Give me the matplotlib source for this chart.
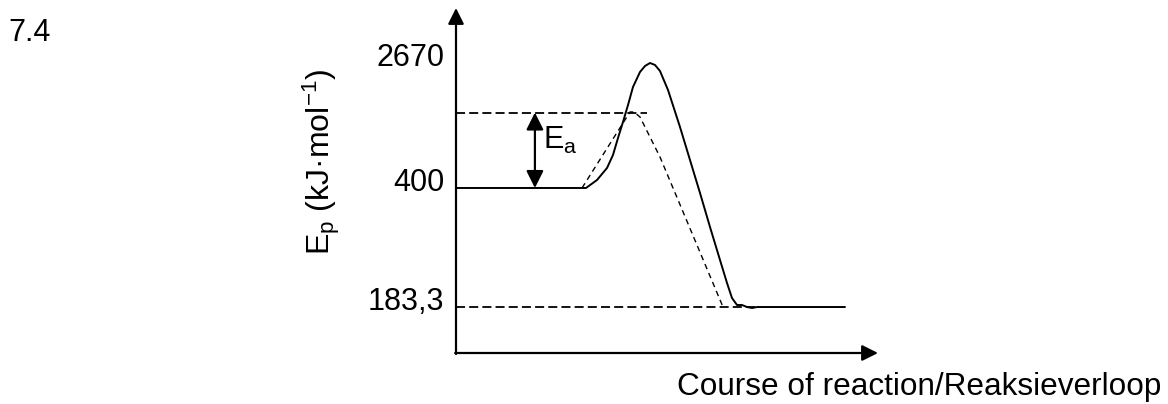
import matplotlib
matplotlib.use("Agg")
import matplotlib.pyplot as plt
from matplotlib.transforms import offset_copy

plt.rcParams['font.family'] = ['Liberation Sans', 'DejaVu Sans']
plt.rcParams['mathtext.fontset'] = 'custom'
plt.rcParams['mathtext.rm'] = 'Liberation Sans'
plt.rcParams['mathtext.it'] = 'Liberation Sans'

# Schematic energy levels (axis units 0-100) and their labels
level_pos = [84.06, 47.83, 13.33]
level_labels = ["2670", "400", "183,3"]

# Uncatalysed curve (solid)
solid_x = [0, 30.81, 33.41, 35.78, 37.20, 38.39, 39.57, 40.76, 41.94, 43.60,
           44.79, 45.97, 47.16, 48.34, 50.24, 53.08, 55.45, 57.82, 60.19,
           62.56, 64.22, 65.40, 66.59, 67.77, 68.96, 70.14, 71.33, 92.18]
solid_y = [47.83, 47.83, 50.14, 53.62, 57.39, 62.32, 66.96, 71.88, 77.10, 81.45,
           83.19, 84.06, 83.48, 81.74, 76.23, 65.51, 55.94, 46.38, 36.52,
           26.96, 20.29, 15.94, 13.91, 13.91, 13.33, 13.04, 13.33, 13.33]

# Catalysed curve (fine dashed)
cat_x = [29.86, 41.23, 42.18, 43.60, 48.34, 63.27]
cat_y = [47.83, 69.86, 69.86, 68.41, 56.81, 13.33]

# Guide lines
ea_level = 69.7
ea_line_end = 45.3
prod_line_end = 70.9
ea_arrow_x = 18.7

FS = 22

fig = plt.figure(figsize=(11.68, 4.04), dpi=100)
ax = fig.add_axes([456/1168, 51/404, 422/1168, 345/404])
ax.set_xlim(0, 100)
ax.set_ylim(0, 100)
ax.axis('off')

# level labels (tick-like, left of the axis)
lab_tr = offset_copy(ax.transData, fig=fig, x=-12, y=5, units='dots')
for yv, lab in zip(level_pos, level_labels):
    ax.text(0, yv, lab, transform=lab_tr, ha='right', va='center', fontsize=FS)

# axes with arrows
arrow_kw = dict(arrowstyle='-|>', lw=1.6, color='black',
                mutation_scale=24, shrinkA=0, shrinkB=0)
ax.annotate('', xy=(0, 100), xytext=(0, -0.3), arrowprops=arrow_kw,
            annotation_clip=False)
ax.annotate('', xy=(100, 0), xytext=(-0.2, 0), arrowprops=arrow_kw,
            annotation_clip=False)

ax.plot(solid_x, solid_y, color='black', lw=1.4, solid_joinstyle='round',
        solid_capstyle='round')
ax.plot(cat_x, cat_y, color='black', lw=1.0, linestyle=(0, (4, 3)))
ax.plot([0, ea_line_end], [ea_level, ea_level], color='black', lw=1.3,
        linestyle=(0, (5, 2.3)))
ax.plot([0, prod_line_end], [level_pos[2], level_pos[2]], color='black', lw=1.3,
        linestyle=(0, (5, 2.3)))

# Ea double arrow
ax.annotate('', xy=(ea_arrow_x, ea_level), xytext=(ea_arrow_x, level_pos[1]),
            arrowprops=dict(arrowstyle='<|-|>', lw=1.6, color='black',
                            mutation_scale=26, shrinkA=0, shrinkB=0))
ax.text(ea_arrow_x + 1.9, 61.7, r'E$_\mathregular{a}$', fontsize=FS,
        ha='left', va='center')

fig.text(321/1168, 1 - 162/404, r'E$_\mathregular{p}$ (kJ·mol$^\mathregular{-1}$)',
         rotation=90, ha='center', va='center', fontsize=23)
fig.text(677/1168, 1 - 395/404, 'Course of reaction/Reaksieverloop',
         ha='left', va='baseline', fontsize=22.7)
fig.text(8/1168, 1 - 41/404, '7.4', ha='left', va='baseline', fontsize=FS)

fig.savefig('out.png', dpi=100)
